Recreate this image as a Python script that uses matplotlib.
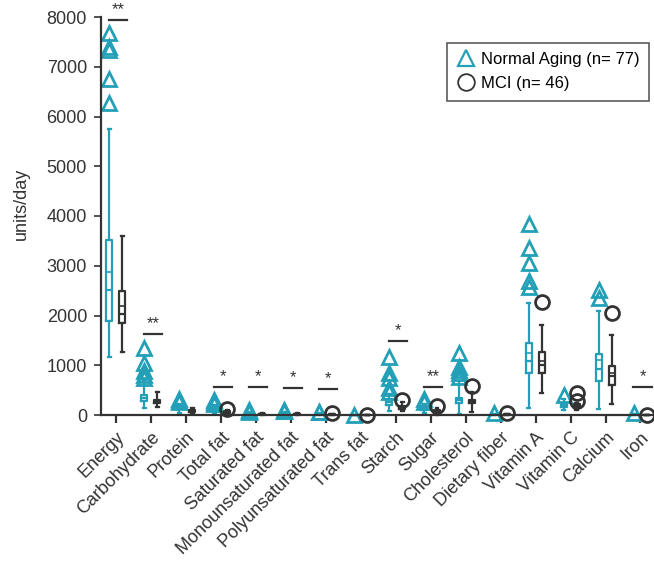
import matplotlib
matplotlib.use("Agg")
import matplotlib.pyplot as plt
from matplotlib.lines import Line2D

plt.rcParams['font.family'] = ['Liberation Sans', 'DejaVu Sans']

categories = ["Energy", "Carbohydrate", "Protein", "Total fat", "Saturated fat",
              "Monounsaturated fat", "Polyunsaturated fat", "Trans fat", "Starch",
              "Sugar", "Cholesterol", "Dietary fiber", "Vitamin A", "Vitamin C",
              "Calcium", "Iron"]

# Normal Aging (n=77)
na_wlo = [1170, 150, 40, 50, 10, 10, 5, 0, 80, 40, 30, 5, 150, 100, 115, 5]
na_q1 = [1890, 280, 120, 110, 30, 30, 15, 1, 200, 110, 250, 10, 850, 170, 680, 10]
na_med = [2510, 335, 160, 140, 40, 40, 22, 2, 260, 140, 300, 15, 1090, 200, 920, 15]
na_q3 = [3520, 400, 200, 170, 50, 50, 30, 3, 330, 180, 350, 20, 1440, 230, 1230, 20]
na_whi = [5750, 700, 230, 210, 65, 65, 45, 5, 420, 230, 680, 30, 2260, 330, 2090, 30]
na_mean = [2880, 350, 165, 145, 42, 42, 24, 2, 270, 150, 310, 16, 1240, 205, 1110, 16]
na_fliers = [[6270, 6750, 7340, 7400, 7670],
             [740, 800, 890, 1040, 1350],
             [260, 290, 330],
             [230, 270, 300],
             [70, 90, 100],
             [75, 90, 100],
             [55, 67],
             [4],
             [470, 540, 740, 840, 1170],
             [270, 320],
             [770, 840, 900, 970, 1240],
             [40],
             [2570, 2700, 3050, 3360, 3840],
             [400],
             [2350, 2510],
             [40]]

# MCI (n=46)
mci_wlo = [1260, 155, 30, 20, 5, 5, 5, 0, 80, 10, 67, 5, 436, 110, 220, 2]
mci_q1 = [1855, 240, 60, 40, 15, 15, 10, 1, 130, 50, 235, 10, 838, 150, 603, 4]
mci_med = [2024, 268, 80, 60, 20, 20, 15, 2, 150, 80, 268, 15, 1005, 190, 791, 6]
mci_q3 = [2492, 300, 100, 90, 30, 30, 20, 3, 190, 110, 301, 20, 1273, 230, 985, 8]
mci_whi = [3604, 468, 150, 110, 45, 45, 25, 4, 260, 150, 468, 25, 1809, 250, 1608, 10]
mci_mean = [2190, 275, 85, 65, 22, 22, 16, 2, 165, 85, 270, 16, 1092, 195, 838, 6]
mci_fliers = [[], [], [], [130], [], [], [33], [5], [301], [181], [583], [33],
              [2265], [288, 436], [2057], [10]]

# significance annotations
sig_idx = [0, 1, 3, 4, 5, 6, 8, 9, 15]
sig_y = [7940, 1620, 556, 556, 536, 516, 1487, 570, 560]
sig_txt = ["**", "**", "*", "*", "*", "*", "*", "**", "*"]

CYAN = "#23a0b8"
DARK = "#333333"

fig = plt.figure(figsize=(6.54, 5.65), dpi=100)
ax = fig.add_axes([101 / 654, 150 / 565, 0.865, 398 / 565])

def stats(wlo, q1, med, q3, whi, mean, fl):
    out = []
    for i in range(len(categories)):
        out.append(dict(whislo=wlo[i], q1=q1[i], med=med[i], q3=q3[i],
                        whishi=whi[i], mean=mean[i], fliers=fl[i]))
    return out

def draw(st, offset, color, marker):
    pos = [i + offset for i in range(len(categories))]
    lw = 1.6
    b = ax.bxp(st, positions=pos, widths=0.17, showmeans=True, manage_ticks=False,
               boxprops=dict(color=color, linewidth=lw),
               medianprops=dict(color=color, linewidth=lw),
               whiskerprops=dict(color=color, linewidth=lw),
               capprops=dict(color=color, linewidth=lw),
               meanprops=dict(marker='_', markeredgecolor=color, markersize=4,
                              markeredgewidth=1.2),
               flierprops=dict(marker=marker, markerfacecolor='none',
                               markeredgecolor=color, markersize=10,
                               markeredgewidth=2.0, linestyle='none'))
    for k in b:
        for art in b[k]:
            art.set_clip_on(False)

draw(stats(na_wlo, na_q1, na_med, na_q3, na_whi, na_mean, na_fliers), -0.19, CYAN, '^')
draw(stats(mci_wlo, mci_q1, mci_med, mci_q3, mci_whi, mci_mean, mci_fliers), 0.18, DARK, 'o')

for i, yv, t in zip(sig_idx, sig_y, sig_txt):
    ax.plot([i - 0.2, i + 0.32], [yv, yv], color=DARK, lw=1.6, clip_on=False)
    ax.text(i + 0.06, yv + 60, t, ha='center', va='bottom', fontsize=12,
            color=DARK, clip_on=False)

ax.set_xlim(-0.43, 15.75)
ax.set_ylim(0, 8000)
ax.set_yticks(range(0, 8001, 1000))
ax.set_xticks(range(len(categories)))
ax.set_xticklabels(categories, rotation=45, ha='right', rotation_mode='anchor',
                   fontsize=13, color=DARK)
ax.tick_params(axis='y', labelsize=13, colors=DARK, length=5, width=1.2, pad=5)
ax.tick_params(axis='x', length=6, width=1.6, colors=DARK, pad=4)
ax.set_ylabel("units/day", fontsize=13, color=DARK)
ax.yaxis.set_label_coords(-0.125, 0.53)
for s in ['top', 'right']:
    ax.spines[s].set_visible(False)
for s in ['left', 'bottom']:
    ax.spines[s].set_color(DARK)
    ax.spines[s].set_linewidth(1.6)

handles = [Line2D([], [], marker='^', color=CYAN, markerfacecolor='none',
                  markersize=12, markeredgewidth=1.6, linestyle='none'),
           Line2D([], [], marker='o', color=DARK, markerfacecolor='none',
                  markersize=12, markeredgewidth=1.3, linestyle='none')]
leg = fig.legend(handles, ["Normal Aging (n= 77)", "MCI (n= 46)"],
                 loc='upper left', bbox_to_anchor=(447 / 654, 1 - 43 / 565),
                 bbox_transform=fig.transFigure, fontsize=12, frameon=True,
                 fancybox=False, handletextpad=0.3, handlelength=1.2,
                 borderpad=0.55, labelspacing=0.55, borderaxespad=0)
leg.get_frame().set_edgecolor(DARK)
leg.get_frame().set_linewidth(1.2)

fig.savefig("out.png", dpi=100)
